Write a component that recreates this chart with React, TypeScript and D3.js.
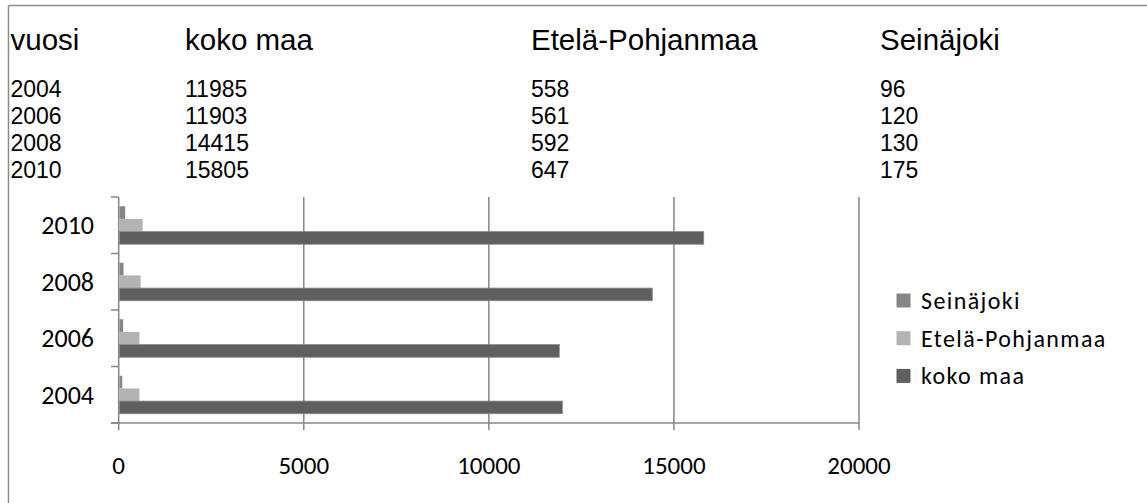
import React from "react";
import * as d3 from "d3";

const years = ["2004", "2006", "2008", "2010"];
const kokoMaa = [11985, 11903, 14415, 15805];
const etelaPohjanmaa = [558, 561, 592, 647];
const seinajoki = [96, 120, 130, 175];
const tableHeaders = ["vuosi", "koko maa", "Etelä-Pohjanmaa", "Seinäjoki"];
const seriesNames = ["Seinäjoki", "Etelä-Pohjanmaa", "koko maa"];
const seriesColors = ["#868686", "#b3b3b3", "#5f5f5f"];
const xTicks = [0, 5000, 10000, 15000, 20000];

const W = 1147;
const H = 503;
const chartFont = "Carlito, Calibri, Lato, sans-serif";
const tableFont = "'Liberation Sans', Arial, sans-serif";

export default function App() {
  const seriesValues = [seinajoki, etelaPohjanmaa, kokoMaa];
  const x = d3.scaleLinear().domain([0, 20000]).range([118.7, 859]);
  const y = d3
    .scaleBand<string>()
    .domain([...years].reverse())
    .range([197, 423])
    .paddingInner(0)
    .paddingOuter(0);
  const inner = d3
    .scaleBand<string>()
    .domain(seriesNames)
    .range([0, y.bandwidth()])
    .paddingInner(0)
    .paddingOuter(0.73);

  const colX = [10.5, 185, 531, 880];
  const rows = years.map((yr, i) => [
    yr,
    String(kokoMaa[i]),
    String(etelaPohjanmaa[i]),
    String(seinajoki[i]),
  ]);
  const rowY = d3.scaleLinear().domain([0, 3]).range([96.7, 178.3]);

  const gridColor = "#878787";
  const boundaries = [...y.domain().map((d) => y(d) as number), 423];

  return (
    <svg
      width={W}
      height={H}
      style={{ position: "absolute", left: 0, top: 0, background: "#fff" }}
    >
      <rect x={0} y={0} width={W} height={H} fill="#fff" />
      {/* frame */}
      <line x1={8.5} y1={5.5} x2={W} y2={5.5} stroke="#8c8c8c" strokeWidth={1.5} />
      <line x1={8.5} y1={5.5} x2={8.5} y2={H} stroke="#8c8c8c" strokeWidth={1.5} />

      {/* table */}
      {tableHeaders.map((h, i) => (
        <text key={h} x={colX[i]} y={50} fontFamily={tableFont} fontSize={29.5} fill="#000">
          {h}
        </text>
      ))}
      {rows.map((r, ri) =>
        r.map((c, ci) => (
          <text
            key={ri + "-" + ci}
            x={colX[ci]}
            y={rowY(ri)}
            fontFamily={tableFont}
            fontSize={23}
            fill="#000"
          >
            {c}
          </text>
        ))
      )}

      {/* gridlines */}
      {xTicks.slice(1).map((t) => (
        <line key={t} x1={x(t)} x2={x(t)} y1={197} y2={430} stroke={gridColor} strokeWidth={1.5} />
      ))}
      {/* axes */}
      <line x1={x(0)} x2={x(0)} y1={197} y2={430} stroke={gridColor} strokeWidth={1.5} />
      <line x1={111} x2={x(20000)} y1={423} y2={423} stroke={gridColor} strokeWidth={1.5} />
      {boundaries.map((b, i) => (
        <line key={i} x1={111} x2={x(0)} y1={b} y2={b} stroke={gridColor} strokeWidth={1.5} />
      ))}

      {/* bars */}
      {years.map((yr, yi) =>
        seriesNames.map((s, si) => (
          <rect
            key={yr + s}
            x={x(0) + 0.75}
            y={(y(yr) as number) + (inner(s) as number)}
            width={x(seriesValues[si][yi]) - x(0) - 0.75}
            height={inner.bandwidth()}
            fill={seriesColors[si]}
            stroke={si === 2 ? "#8a8a8a" : "none"}
            strokeWidth={0.8}
          />
        ))
      )}

      {/* y labels */}
      {years.map((yr) => (
        <text
          key={yr}
          x={94}
          y={(y(yr) as number) + y.bandwidth() / 2}
          dy="0.35em"
          textAnchor="end"
          fontFamily={chartFont}
          fontSize={26}
          fill="#000"
        >
          {yr}
        </text>
      ))}

      {/* x labels */}
      {xTicks.map((t) => (
        <text
          key={t}
          x={x(t)}
          y={465}
          dy="0.35em"
          textAnchor="middle"
          fontFamily={chartFont}
          fontSize={25}
          fill="#000"
        >
          {t}
        </text>
      ))}

      {/* legend */}
      {seriesNames.map((s, i) => (
        <g key={s} transform={`translate(896.5, ${293.5 + i * 37.7})`}>
          <rect x={0} y={0} width={14} height={14} fill={seriesColors[i]} />
          <text x={24.5} y={7} dy="0.35em" fontFamily={chartFont} fontSize={24} fill="#000" letterSpacing={1.4}>
            {s}
          </text>
        </g>
      ))}
    </svg>
  );
}
